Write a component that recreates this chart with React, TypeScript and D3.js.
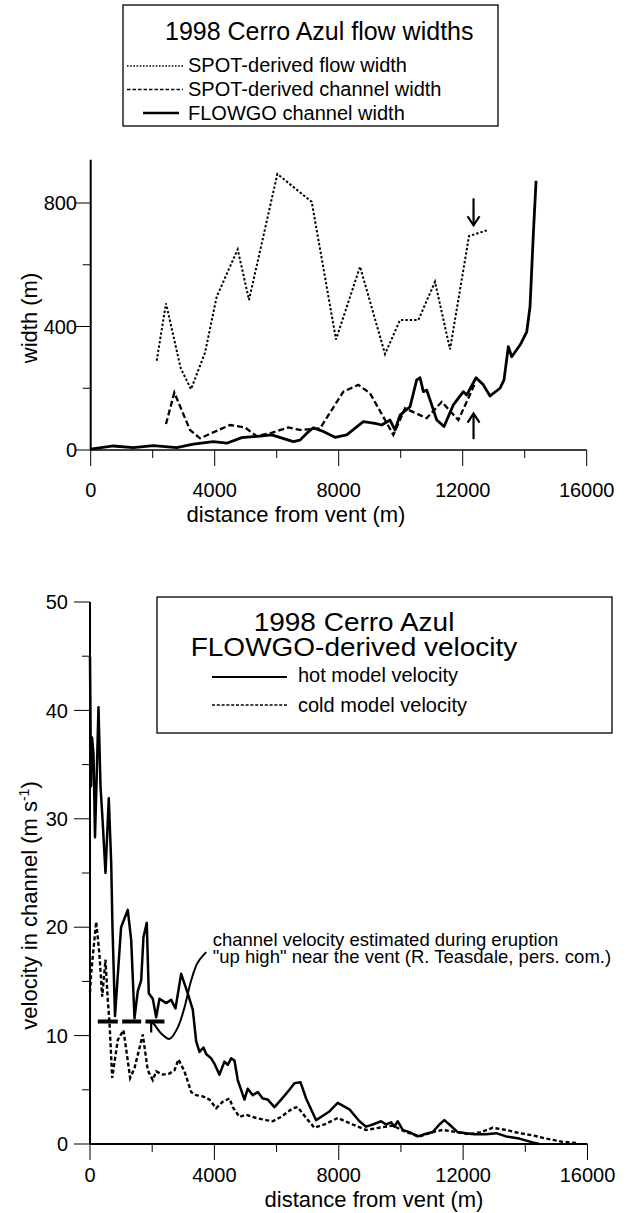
import React from 'react';
import * as d3 from 'd3';

const FONT = '"Liberation Sans", Arial, Helvetica, sans-serif';

// ---------- axis ticks ----------
const xTicks = [0, 4000, 8000, 12000, 16000];
const xMinorTicks = [2000, 6000, 10000, 14000];
const widthTicks = [0, 400, 800];
const widthMinorTicks = [200, 600];
const velTicks = [0, 10, 20, 30, 40, 50];
const velMinorTicks = [5, 15, 25, 35, 45];

// ---------- top chart: widths (distance m, width m) ----------
const spotFlowWidth: [number, number][] = [
  [2129, 289], [2429, 475], [2903, 265], [3236, 197], [3687, 315], [4065, 497], [4742, 650],
  [5107, 486], [6021, 894], [7129, 804], [7913, 358], [8688, 594], [9494, 311], [9978, 421],
  [10569, 421], [11107, 545], [11591, 326], [12204, 693], [12827, 713],
];
const spotChannelWidth: [number, number][] = [
  [2429, 84], [2698, 186], [3203, 65], [3526, 38], [4494, 81], [4978, 73], [5355, 45],
  [5785, 54], [6375, 73], [6752, 65], [7397, 70], [8150, 189], [8634, 211], [9010, 184],
  [9763, 49], [10140, 135], [10840, 103], [11323, 156], [11860, 97], [12398, 216],
];
const flowgoChannelWidth: [number, number][] = [
  [0, 3], [730, 13], [1375, 8], [2020, 14], [2774, 8], [3310, 19], [3955, 27], [4387, 22],
  [4871, 40], [5462, 45], [5839, 49], [6536, 27], [6752, 32], [7020, 59], [7181, 72], [7452, 62],
  [7881, 41], [8258, 49], [8795, 92], [9172, 86], [9387, 81], [9655, 97], [9817, 65], [9978, 113],
  [10301, 140], [10516, 227], [10624, 234], [10731, 189], [10840, 194], [11001, 146], [11162, 97],
  [11398, 76], [11698, 146], [12021, 189], [12129, 178], [12430, 234], [12666, 211], [12881, 175],
  [13204, 200], [13333, 227], [13472, 335], [13581, 302], [13850, 340], [14066, 383], [14172, 464],
  [14280, 702], [14367, 872],
];
// arrows marking the flow end: [distance, from width, to width]
const widthArrows: [number, number, number][] = [
  [12350, 815, 728],
  [12350, 35, 118],
];

// ---------- bottom chart: velocity (distance m, velocity m/s) ----------
const hotVelocity: [number, number][] = [
  [0, 45], [32, 33], [64, 37.5], [113, 36], [161, 28.3], [225, 35], [273, 40.3], [338, 33],
  [402, 30], [498, 25], [604, 31.9], [682, 25.9], [723, 20], [804, 11.8], [1000, 20.0],
  [1215, 21.6], [1325, 18.8], [1431, 11.6], [1537, 14.1], [1646, 15.1], [1720, 19.1], [1826, 20.4],
  [1890, 13.9], [2019, 13.4], [2128, 11.7], [2234, 13.4], [2450, 13.0], [2611, 13.3], [2749, 12.5],
  [2932, 15.7], [3144, 13.9], [3305, 12.4], [3414, 9.5], [3520, 8.5], [3649, 8.9], [3736, 8.3],
  [3897, 7.9], [4003, 7.4], [4163, 6.4], [4324, 7.6], [4430, 7.3], [4540, 7.9], [4646, 7.7],
  [4752, 5.9], [4967, 4.1], [5073, 5.1], [5234, 4.5], [5395, 4.8], [5556, 4.2], [5716, 4.1],
  [5932, 3.4], [6147, 4.1], [6414, 5.0], [6575, 5.6], [6768, 5.7], [6951, 4.2], [7272, 2.2],
  [7539, 2.7], [7700, 3.0], [7967, 3.8], [8343, 3.2], [8665, 2.1], [8880, 1.6], [9092, 1.8],
  [9362, 2.1], [9523, 1.8], [9684, 2.0], [9790, 1.6], [9896, 2.1], [10057, 1.3], [10272, 1.1],
  [10539, 0.7], [10754, 0.9], [11021, 1.1], [11237, 1.8], [11397, 2.2], [11558, 1.8], [11825, 1.1],
  [12095, 1.0], [12362, 0.9], [12738, 0.9], [13059, 1.0], [13381, 0.7], [13809, 0.5], [14236, 0.15],
  [14451, 0],
];
const coldVelocity: [number, number][] = [
  [0, 14], [39, 15.8], [100, 17.6], [199, 20.5], [300, 17.6], [393, 13.6], [498, 17.0], [572, 13.3],
  [627, 11.2], [714, 6.1], [894, 9.6], [1077, 10.5], [1292, 6.1], [1431, 7.0], [1698, 10.1],
  [1858, 6.8], [2019, 5.9], [2128, 6.7], [2341, 6.4], [2556, 6.5], [2717, 6.8], [2845, 7.8],
  [3038, 6.7], [3254, 4.8], [3414, 4.5], [3626, 4.4], [3842, 4.1], [4057, 3.3], [4270, 3.9],
  [4485, 4.2], [4591, 3.4], [4806, 2.5], [5022, 2.7], [5343, 2.4], [5665, 2.2], [5877, 2.1],
  [6147, 2.5], [6520, 3.3], [6681, 3.4], [6951, 2.4], [7218, 1.5], [7539, 1.8], [7967, 2.4],
  [8449, 1.8], [8880, 1.3], [9307, 1.5], [9735, 1.7], [10166, 1.1], [10594, 0.7], [11021, 1.1],
  [11343, 1.3], [11773, 1.1], [12201, 0.9], [12577, 1.1], [12950, 1.5], [13381, 1.3], [13809, 1.0],
  [14236, 0.8], [14667, 0.5], [15200, 0.2], [15631, 0.1],
];
// observed channel velocity bars: [from distance, to distance, velocity]
const observedBars: [number, number, number][] = [
  [251, 894, 11.3],
  [1035, 1646, 11.3],
  [1784, 2395, 11.3],
];
// annotation leader curve (distance, velocity)
const leaderCurve: [number, number][] = [
  [3737, 17.7], [3457, 16.7], [3255, 15.1], [3039, 12.6], [2814, 10.7], [2556, 9.7],
  [2290, 10.2], [2074, 11.0], [1968, 11.3],
];

const topLegendItems = [
  { label: 'SPOT-derived flow width', dash: '1.6,1.6', width: 1.3, x1: 127, x2: 183 },
  { label: 'SPOT-derived channel width', dash: '3.5,2', width: 1.5, x1: 127, x2: 183 },
  { label: 'FLOWGO channel width', dash: null, width: 2.5, x1: 143, x2: 179 },
];
const bottomLegendItems = [
  { label: 'hot model velocity', dash: null, width: 2 },
  { label: 'cold model velocity', dash: '3,1.8', width: 1.5 },
];
const bottomTitleLines = ['1998 Cerro Azul', 'FLOWGO-derived velocity'];

export default function App() {
  // top chart scales
  const xTop = d3.scaleLinear().domain([0, 16000]).range([90.7, 586.7]);
  const yTop = d3.scaleLinear().domain([0, 940]).range([450, 159.8]);
  // bottom chart scales
  const xBot = d3.scaleLinear().domain([0, 16000]).range([90, 587.5]);
  const yBot = d3.scaleLinear().domain([0, 50]).range([1144, 602]);

  const lineTop = d3.line<[number, number]>().x(d => xTop(d[0])).y(d => yTop(d[1]));
  const lineBot = d3.line<[number, number]>().x(d => xBot(d[0])).y(d => yBot(d[1]));
  const leader = d3.line<[number, number]>().x(d => xBot(d[0])).y(d => yBot(d[1])).curve(d3.curveCatmullRom);

  const tickFont = 20;
  const titleFont = 22;

  const tip = leaderCurve[leaderCurve.length - 1];
  const tipX = xBot(tip[0]);
  const tipY = yBot(tip[1]);

  return (
    <svg width={630} height={1213} style={{ position: 'absolute', left: 0, top: 0, background: '#fff' }}
      fontFamily={FONT}>
      <rect x={0} y={0} width={630} height={1213} fill="#fff" />

      {/* ================= TOP CHART ================= */}
      {/* legend box */}
      <rect x={123} y={5} width={375} height={121} fill="none" stroke="#000" strokeWidth={1.3} />
      <text x={165} y={40} fontSize={25} fill="#000">1998 Cerro Azul flow widths</text>
      {topLegendItems.map((it, i) => (
        <g key={it.label}>
          <line x1={it.x1} x2={it.x2} y1={66 + i * 23.5} y2={66 + i * 23.5} stroke="#000"
            strokeWidth={it.width} strokeDasharray={it.dash || undefined} />
          <text x={188} y={72 + i * 24} fontSize={20} fill="#000">{it.label}</text>
        </g>
      ))}

      {/* axes */}
      <line x1={xTop(0)} x2={xTop(0)} y1={yTop(0)} y2={yTop(940)} stroke="#000" strokeWidth={2} />
      <line x1={xTop(0)} x2={xTop(16000)} y1={yTop(0)} y2={yTop(0)} stroke="#000" strokeWidth={1.6} />
      {widthTicks.map(t => (
        <g key={'wt' + t}>
          <line x1={xTop(0) - 16} x2={xTop(0)} y1={yTop(t)} y2={yTop(t)} stroke="#000" strokeWidth={1} />
          <text x={77} y={yTop(t)} dy="0.36em" textAnchor="end" fontSize={tickFont}>{t}</text>
        </g>
      ))}
      {widthMinorTicks.map(t => (
        <line key={'wm' + t} x1={xTop(0) - 8} x2={xTop(0)} y1={yTop(t)} y2={yTop(t)} stroke="#000" strokeWidth={1} />
      ))}
      {xTicks.map(t => (
        <g key={'xt' + t}>
          <line x1={xTop(t)} x2={xTop(t)} y1={yTop(0)} y2={yTop(0) + 16} stroke="#000" strokeWidth={1} />
          <text x={xTop(t)} y={497} textAnchor="middle" fontSize={tickFont}>{t}</text>
        </g>
      ))}
      {xMinorTicks.map(t => (
        <line key={'xm' + t} x1={xTop(t)} x2={xTop(t)} y1={yTop(0)} y2={yTop(0) + 8} stroke="#000" strokeWidth={1} />
      ))}
      <text x={296} y={522} textAnchor="middle" fontSize={titleFont}>distance from vent (m)</text>
      <text transform="translate(37,318) rotate(-90)" textAnchor="middle" fontSize={titleFont}>width (m)</text>

      {/* series */}
      <path d={lineTop(spotFlowWidth) || ''} fill="none" stroke="#000" strokeWidth={2} strokeDasharray="2.4,2" />
      <path d={lineTop(spotChannelWidth) || ''} fill="none" stroke="#000" strokeWidth={2.3} strokeDasharray="6,3" />
      <path d={lineTop(flowgoChannelWidth) || ''} fill="none" stroke="#000" strokeWidth={2.8} strokeLinejoin="round" />

      {/* arrows */}
      {widthArrows.map(([d, from, to], i) => {
        const ax = xTop(d);
        const y1 = yTop(from);
        const y2 = yTop(to);
        const dir = y2 > y1 ? 1 : -1;
        return (
          <g key={'arr' + i} stroke="#000" strokeWidth={2.2} fill="none">
            <line x1={ax} x2={ax} y1={y1} y2={y2} />
            <polyline points={`${ax - 6},${y2 - dir * 9} ${ax},${y2} ${ax + 6},${y2 - dir * 9}`} />
          </g>
        );
      })}

      {/* ================= BOTTOM CHART ================= */}
      <rect x={157} y={597} width={455} height={136} fill="none" stroke="#000" strokeWidth={1.3} />
      {bottomTitleLines.map((s, i) => (
        <text key={s} transform={`translate(354,${631 + i * 24.5}) scale(1.12,1)`} textAnchor="middle" fontSize={25}>{s}</text>
      ))}
      {bottomLegendItems.map((it, i) => (
        <g key={it.label}>
          <line x1={212} x2={287} y1={677 + i * 28} y2={677 + i * 28} stroke="#000"
            strokeWidth={it.width} strokeDasharray={it.dash || undefined} />
          <text x={298} y={682 + i * 29.5} fontSize={20}>{it.label}</text>
        </g>
      ))}

      {/* axes */}
      <line x1={xBot(0)} x2={xBot(0)} y1={yBot(0)} y2={yBot(50)} stroke="#000" strokeWidth={2} />
      <line x1={xBot(0)} x2={xBot(16000)} y1={yBot(0)} y2={yBot(0)} stroke="#000" strokeWidth={2} />
      {velTicks.map(t => (
        <g key={'vt' + t}>
          <line x1={xBot(0) - 16} x2={xBot(0)} y1={yBot(t)} y2={yBot(t)} stroke="#000" strokeWidth={1} />
          <text x={68} y={yBot(t)} dy="0.36em" textAnchor="end" fontSize={tickFont}>{t}</text>
        </g>
      ))}
      {velMinorTicks.map(t => (
        <line key={'vm' + t} x1={xBot(0) - 8} x2={xBot(0)} y1={yBot(t)} y2={yBot(t)} stroke="#000" strokeWidth={1} />
      ))}
      {xTicks.map(t => (
        <g key={'bxt' + t}>
          <line x1={xBot(t)} x2={xBot(t)} y1={yBot(0)} y2={yBot(0) + 16} stroke="#000" strokeWidth={1} />
          <text x={xBot(t)} y={1182} textAnchor="middle" fontSize={tickFont}>{t}</text>
        </g>
      ))}
      {xMinorTicks.map(t => (
        <line key={'bxm' + t} x1={xBot(t)} x2={xBot(t)} y1={yBot(0)} y2={yBot(0) + 8} stroke="#000" strokeWidth={1} />
      ))}
      <text x={374} y={1207} textAnchor="middle" fontSize={titleFont}>distance from vent (m)</text>
      <text transform="translate(37,905.5) rotate(-90)" textAnchor="middle" fontSize={titleFont}>
        velocity in channel (m s<tspan dy="-8" fontSize={14}>-1</tspan><tspan dy="8">)</tspan>
      </text>

      {/* series */}
      <path d={lineBot(coldVelocity) || ''} fill="none" stroke="#000" strokeWidth={2.4} strokeDasharray="4,2.5" />
      <path d={lineBot(hotVelocity) || ''} fill="none" stroke="#000" strokeWidth={2.5} strokeLinejoin="round" />

      {/* observed velocity bars */}
      {observedBars.map(([a, b, v], i) => (
        <line key={'ob' + i} x1={xBot(a)} x2={xBot(b)} y1={yBot(v)} y2={yBot(v)} stroke="#000" strokeWidth={4} />
      ))}

      {/* annotation */}
      <path d={leader(leaderCurve) || ''} fill="none" stroke="#000" strokeWidth={2} />
      <polyline points={`${tipX},${tipY + 11} ${tipX},${tipY} ${tipX + 11},${tipY}`} fill="none" stroke="#000" strokeWidth={2.2} />
      <text x={212.7} y={946} fontSize={18.5}>channel velocity estimated during eruption</text>
      <text x={212.7} y={963} fontSize={18.5}>"up high" near the vent (R. Teasdale, pers. com.)</text>
    </svg>
  );
}
